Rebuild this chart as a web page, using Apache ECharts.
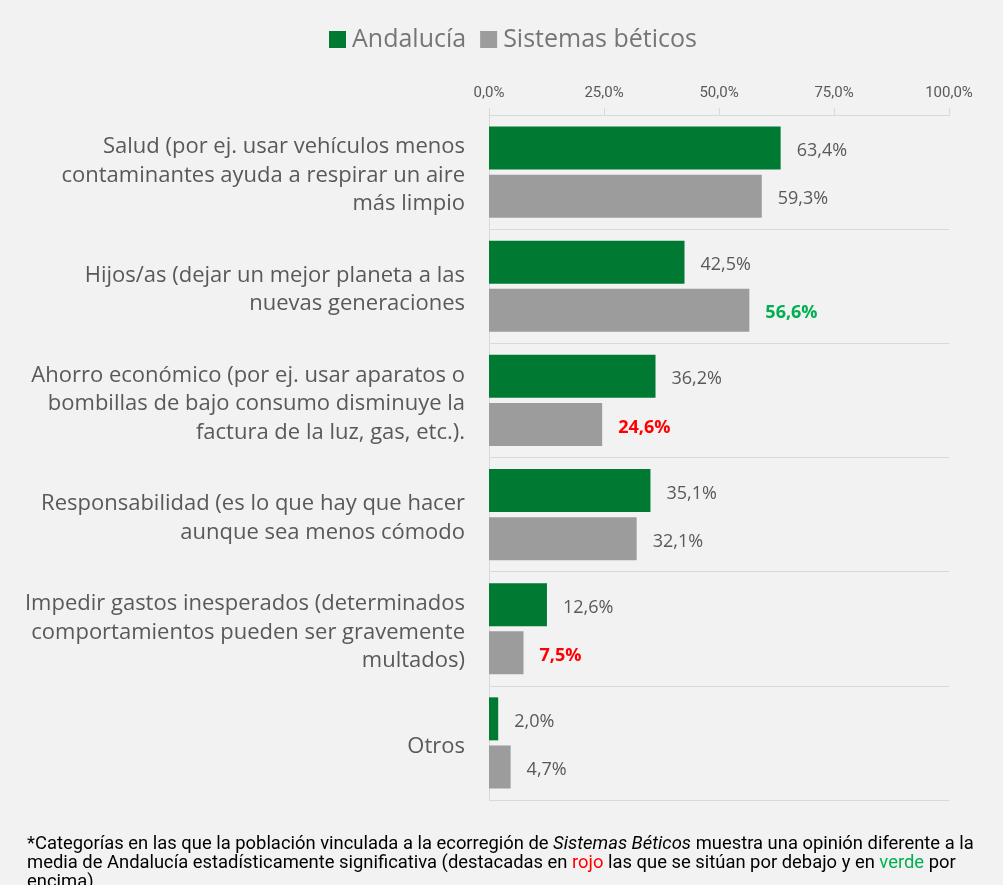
<!DOCTYPE html>
<html><head><meta charset="utf-8">
<script src="https://cdn.jsdelivr.net/npm/echarts@6/dist/echarts.min.js"></script>
<style>html,body{margin:0;padding:0;background:#f2f2f2}#c{width:1003px;height:885px}</style>
</head><body><div id="c"></div>
<script>
const categories = [
  "Salud (por ej. usar vehículos menos\ncontaminantes ayuda a respirar un aire\nmás limpio",
  "Hijos/as (dejar un mejor planeta a las\nnuevas generaciones",
  "Ahorro económico (por ej. usar aparatos o\nbombillas de bajo consumo disminuye la\nfactura de la luz, gas, etc.).",
  "Responsabilidad (es lo que hay que hacer\naunque sea menos cómodo",
  "Impedir gastos inesperados (determinados\ncomportamientos pueden ser gravemente\nmultados)",
  "Otros"
];
const andalucia = [63.4, 42.5, 36.2, 35.1, 12.6, 2.0];
const sistemas = [59.3, 56.6, 24.6, 32.1, 7.5, 4.7];
// significance of Sistemas Béticos vs Andalucía: 1 above, -1 below, 0 not significant
const significance = [0, 1, -1, 0, -1, 0];
const xTicks = [0, 25, 50, 75, 100];

const FONT = 'Open Sans';
const fmt = v => v.toFixed(1).replace('.', ',') + '%';
const sigColor = s => s > 0 ? '#00b050' : (s < 0 ? '#ff0000' : '#595959');

const chart = echarts.init(document.getElementById('c'));
chart.setOption({
  backgroundColor: '#f2f2f2',
  textStyle: {fontFamily: FONT},
  legend: {
    top: 27, left: 329, padding: 0, itemWidth: 17, itemHeight: 17, itemGap: 14,
    icon: 'rect',
    textStyle: {fontSize: 25, color: '#767676', fontFamily: FONT, padding: [0,0,0,1]},
    data: ['Andalucía', 'Sistemas béticos']
  },
  grid: {left: 489, right: 54, top: 115, bottom: 85, containLabel: false},
  xAxis: {
    type: 'value', position: 'top', min: xTicks[0], max: xTicks[xTicks.length-1], interval: 25,
    axisLine: {show: true, lineStyle: {color: '#d9d9d9', width: 1}},
    axisTick: {show: true, length: 7, lineStyle: {color: '#d9d9d9'}},
    splitLine: {show: false},
    axisLabel: {formatter: v => fmt(v), color: '#595959', fontSize: 15, margin: 14, fontFamily: 'Roboto'}
  },
  yAxis: {
    type: 'category', inverse: true, data: categories,
    axisLine: {show: true, lineStyle: {color: '#d9d9d9'}},
    axisTick: {show: false},
    splitLine: {show: true, lineStyle: {color: '#d9d9d9', width: 1}},
    axisLabel: {
      margin: 24, align: 'right',
      formatter: v => '{c|' + v + '}',
      rich: {c: {color: '#595959', fontSize: 22, lineHeight: 28.5, fontFamily: FONT, align: 'right', padding: [7, 0, 0, 0]}}
    }
  },
  series: [
    {
      name: 'Andalucía', type: 'bar', data: andalucia, barWidth: 43, barGap: '12%',
      itemStyle: {color: '#007a33'},
      label: {show: true, position: 'right', distance: 16, offset: [0, 3], formatter: p => fmt(p.value),
        color: '#595959', fontSize: 18, fontWeight: 500, fontFamily: FONT}
    },
    {
      name: 'Sistemas béticos', type: 'bar', barWidth: 43, barGap: '12%',
      data: sistemas.map((v, i) => ({
        value: v,
        label: significance[i] !== 0 ? {color: sigColor(significance[i]), fontWeight: 'bold'} : {}
      })),
      itemStyle: {color: '#9c9c9c'},
      label: {show: true, position: 'right', distance: 16, offset: [0, 3], formatter: p => fmt(p.value),
        color: '#595959', fontSize: 18, fontWeight: 500, fontFamily: FONT}
    }
  ],
  graphic: [{
    type: 'text', left: 27, top: 835,
    style: {
      text: '*Categorías en las que la población vinculada a la ecorregión de {i|Sistemas Béticos} muestra una opinión diferente a la\nmedia de Andalucía estadísticamente significativa (destacadas en {r|rojo} las que se sitúan por debajo y en {g|verde} por\nencima).',
      font: '18.4px Roboto', fill: '#000', lineHeight: 19,
      rich: {
        i: {fontStyle: 'italic', fontSize: 18.4, fontFamily: 'Roboto', fill: '#000', lineHeight: 19},
        r: {fill: '#ff0000', fontSize: 18.4, fontFamily: 'Roboto', lineHeight: 19},
        g: {fill: '#00b050', fontSize: 18.4, fontFamily: 'Roboto', lineHeight: 19}
      }
    }
  }]
});
</script></body></html>
